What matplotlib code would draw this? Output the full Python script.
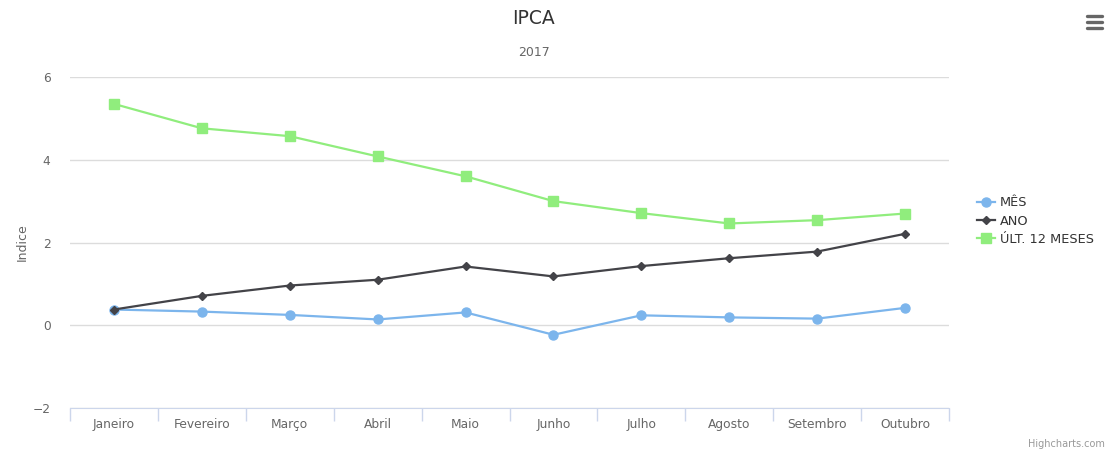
#!/usr/bin/env python

""" IPCA 2017 monthly, yearly and 12-month index """

import numpy as np
import matplotlib.pyplot as plt
from matplotlib.lines import Line2D

months = ["Janeiro", "Fevereiro", "Março", "Abril", "Maio", "Junho",
          "Julho", "Agosto", "Setembro", "Outubro"]
mes = [0.38, 0.33, 0.25, 0.14, 0.31, -0.23, 0.24, 0.19, 0.16, 0.42]
ano = [0.38, 0.71, 0.96, 1.10, 1.42, 1.18, 1.43, 1.62, 1.78, 2.21]
ult12 = [5.35, 4.76, 4.57, 4.08, 3.60, 3.00, 2.71, 2.46, 2.54, 2.70]
series_names = ["MÊS", "ANO", "ÚLT. 12 MESES"]
y_ticks = [-2, 0, 2, 4, 6]


def main():
    """ main body """
    W, H = 1108, 455
    fig = plt.figure(figsize=(W / 100, H / 100), dpi=100)
    ax = fig.add_axes([70 / W, (H - 408) / H, (949 - 70) / W, (408 - 77) / H])

    x = np.arange(len(months))
    styles = [
        dict(color="#7cb5ec", marker="o", ms=6.5),
        dict(color="#434348", marker="D", ms=4.5),
        dict(color="#90ed7d", marker="s", ms=6.5),
    ]
    for vals, st in zip([mes, ano, ult12], styles):
        ax.plot(x, vals, lw=1.6, zorder=3, clip_on=False, **st)

    ax.set_xlim(-0.5, len(months) - 0.5)
    ax.set_ylim(-2, 6)
    ax.set_yticks(y_ticks)
    ax.set_yticklabels(["\u22122" if t < 0 else str(t) for t in y_ticks])
    ax.set_xticks(x)
    ax.set_xticklabels(months)
    ax.set_xticks(np.arange(-0.5, len(months)), minor=True)
    ax.tick_params(axis="x", which="major", length=0, pad=7, labelsize=8.8, labelcolor="#666666")
    ax.tick_params(axis="x", which="minor", length=9, color="#ccd6eb", width=1)
    ax.tick_params(axis="y", length=0, pad=14, labelsize=8.8, labelcolor="#666666")
    ax.grid(axis="y", color="#dcdcdc", lw=1)
    ax.set_axisbelow(True)
    for s in ["top", "right", "left"]:
        ax.spines[s].set_visible(False)
    ax.spines["bottom"].set_color("#ccd6eb")
    ax.set_ylabel("Indice", color="#666666", fontsize=9, labelpad=3)

    fig.text(534 / W, 1 - 18 / H, "IPCA", ha="center", va="center", fontsize=13.5, color="#333333")
    fig.text(534 / W, 1 - 52 / H, "2017", ha="center", va="center", fontsize=9, color="#666666")
    fig.text(1105 / W, 1 - 444 / H, "Highcharts.com", ha="right", va="center", fontsize=7, color="#999999")

    # menu icon
    for yy in [16, 22, 28]:
        fig.add_artist(Line2D([1087 / W, 1102 / W], [1 - yy / H, 1 - yy / H],
                              color="#666666", lw=2.4, solid_capstyle="round"))

    handles = [Line2D([], [], lw=1.6, **st) for st in styles]
    fig.legend(handles, series_names, loc="center left", bbox_to_anchor=(965 / W, 1 - 221 / H),
               frameon=False, fontsize=9.3, labelcolor="#333333", handlelength=1.4,
               handletextpad=0.4, labelspacing=0.4)

    plt.savefig("out.png", dpi=100)
    plt.close()


if __name__ == "__main__":
    main()
